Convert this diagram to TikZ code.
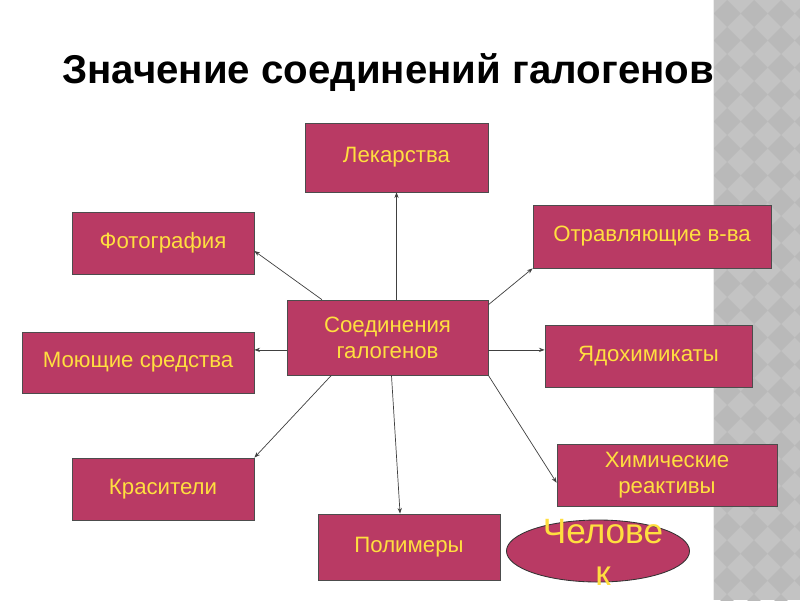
\documentclass[tikz,border=0pt]{standalone}
\usepackage{fontspec}
\setmainfont{Liberation Sans}
\usepackage{tikz}
\usetikzlibrary{arrows.meta}
\usetikzlibrary{shapes.geometric}
\definecolor{boxred}{HTML}{B93A64}
\definecolor{boxtext}{HTML}{FFDF3F}
\definecolor{stripgray}{HTML}{C3C3C3}
\definecolor{diagray}{HTML}{B9B9B9}
\tikzset{
  box/.style={draw=black!70, line width=0.5pt, fill=boxred, text=boxtext,
    font=\fontsize{15.8}{18.5}\selectfont, align=center, inner sep=0pt},
  link/.style={draw=black!75, line width=0.5pt, -{Stealth[length=4pt, width=3pt]}},
}

\begin{document}
\begin{tikzpicture}[x=0.025cm, y=-0.025cm]
    % Frame
    \useasboundingbox (0,0) rectangle (800,600);
    \fill[white] (0,0) rectangle (800,600);
    % Strip on the right
    \fill[stripgray] (713,0) rectangle (800,600);
    \begin{scope}
      \clip (713,0) rectangle (800,600);
      \foreach \i in {0,...,4}
        \foreach \j in {0,...,23}
          \fill[diagray] ({700+27*\i},{27*\j}) -- ++(13.5,13.5) -- ++(-13.5,13.5) -- ++(-13.5,-13.5) -- cycle;
    \end{scope}
    \draw[white!85!gray, line width=1pt] (713.5,0) -- (713.5,600);
    % Title
    \node[font=\fontsize{28.6}{34}\selectfont\bfseries, anchor=base west, inner sep=0pt] (title) at (62,83) {Значение соединений галогенов};
    % Boxes
    \node[box, minimum width=5.025cm, minimum height=1.875cm] (hub) at (387.5,337.5) {Соединения\\галогенов};
    \node[box, minimum width=4.575cm, minimum height=1.725cm] (lek) at (396.5,157.5) {Лекарства};
    \node[box, minimum width=4.55cm, minimum height=1.55cm] (foto) at (163,243) {Фотография};
    \node[box, minimum width=5.95cm, minimum height=1.575cm] (otrav) at (652,236.5) {Отравляющие в-ва};
    \node[box, minimum width=5.8cm, minimum height=1.525cm] (moyu) at (138,362.5) {Моющие средства};
    \node[box, minimum width=5.175cm, minimum height=1.55cm] (yado) at (648.5,356) {Ядохимикаты};
    \node[box, minimum width=4.55cm, minimum height=1.55cm] (kras) at (163,489) {Красители};
    \node[box, minimum width=5.5cm, minimum height=1.55cm] (him) at (667,475) {Химические\\реактивы};
    \node[box, minimum width=4.55cm, minimum height=1.65cm] (poli) at (409,547) {Полимеры};
    % Ellipse
    \node[ellipse, draw=black!80, line width=0.6pt, fill=boxred, minimum width=4.575cm, minimum height=1.55cm, inner sep=0pt] (chel) at (598,551) {};
    \node[text=boxtext, font=\fontsize{25}{30}\selectfont, align=center] (cheltext) at (603,552) {Челове\\к};
    % Links
    \draw[link] (lek.south |- hub.north) -- (lek.south);
    \draw[link] (hub.150) -- (foto.-5);
    \draw[link] (hub.18) -- (otrav.south west);
    \draw[link] (hub.187) -- (hub.187 -| moyu.east);
    \draw[link] (hub.-7) -- (hub.-7 -| yado.west);
    \draw[link] (hub.214) -- (kras.north east);
    \draw[link] (hub.-84) -- (poli.105);
    \draw[link] (hub.south east) -- (him.184);
\end{tikzpicture}
\end{document}
